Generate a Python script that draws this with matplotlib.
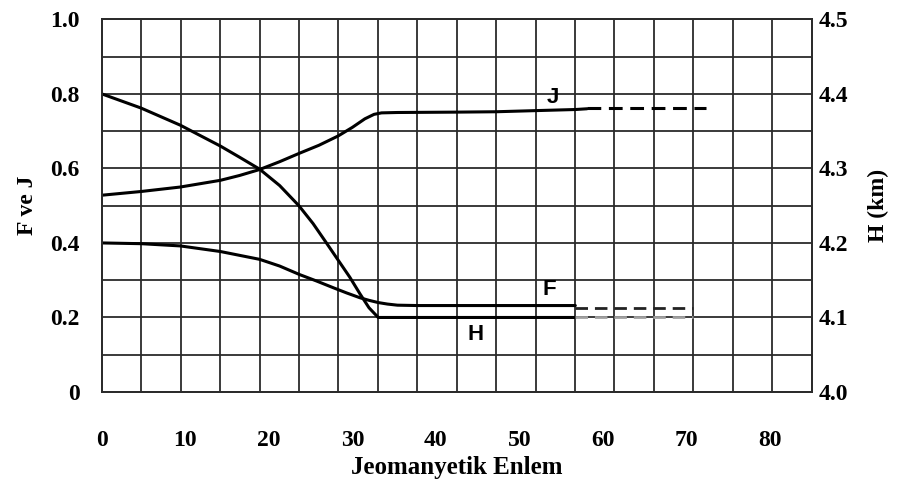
import numpy as np
import matplotlib
matplotlib.use("Agg")
import matplotlib.pyplot as plt

# readings from the figure (x in geomagnetic latitude, degrees)
h_lat = [0, 4.7, 9.4, 14.2, 16.5, 18.9, 21.3, 23.6, 25.3, 26.9, 28.3, 29.7,
         30.9, 32.0, 33.1, 56.7]
h_km = [4.400, 4.381, 4.358, 4.330, 4.315, 4.299, 4.277, 4.250, 4.226, 4.200,
        4.177, 4.154, 4.132, 4.113, 4.100, 4.100]
h_dash_lat = [56.7, 70.8]
h_dash_km = [4.100, 4.100]

j_lat = [0, 4.7, 9.4, 14.2, 16.5, 18.9, 21.3, 23.6, 26.0, 28.3, 30.0, 31.5,
         32.6, 33.5, 35.4, 42.5, 47.2, 51.9, 56.7, 58.1]
j_val = [0.528, 0.538, 0.550, 0.568, 0.581, 0.597, 0.618, 0.640, 0.662, 0.687,
         0.710, 0.733, 0.745, 0.749, 0.750, 0.751, 0.752, 0.755, 0.758, 0.760]
j_dash_lat = [58.1, 72.3]
j_dash_val = [0.762, 0.762]

f_lat = [0, 4.7, 9.4, 14.2, 18.9, 21.3, 23.7, 25.7, 27.7, 29.3, 30.9, 32.0,
         33.1, 34.2, 35.4, 37.8, 56.7]
f_val = [0.400, 0.398, 0.392, 0.377, 0.356, 0.338, 0.315, 0.298, 0.280, 0.266,
         0.253, 0.246, 0.240, 0.236, 0.233, 0.232, 0.232]
f_dash_lat = [56.7, 70.8]
f_dash_val = [0.226, 0.226]

x_ticks = [0, 10, 20, 30, 40, 50, 60, 70, 80]
left_ticks = [0, 0.2, 0.4, 0.6, 0.8, 1.0]
left_labels = ["0", "0.2", "0.4", "0.6", "0.8", "1.0"]
right_ticks = [4.0, 4.1, 4.2, 4.3, 4.4, 4.5]
right_labels = ["4.0", "4.1", "4.2", "4.3", "4.4", "4.5"]

serif = "Liberation Serif"
sans = "Liberation Sans"
gridc = "#2b2b2b"

fig = plt.figure(figsize=(8.98, 4.88), dpi=100)
ax = fig.add_axes([0.1133, 0.1967, 0.7906, 0.7637])
ax2 = ax.twinx()

ax.set_xlim(0, 85)
ax.set_ylim(0, 1.0)
ax2.set_ylim(4.0, 4.5)

# grid: 18 columns, rows every 0.1
ax.set_xticks(x_ticks)
ax.set_xticks(np.linspace(0, 85, 19), minor=True)
ax.set_yticks(left_ticks)
ax.set_yticks(np.arange(0, 1.01, 0.1), minor=True)
ax.grid(which="minor", color=gridc, lw=1.3)
ax.grid(which="major", axis="y", color=gridc, lw=1.3)
ax.set_axisbelow(True)

ax.set_yticklabels(left_labels)
ax2.set_yticks(right_ticks)
ax2.set_yticklabels(right_labels)

for a in (ax, ax2):
    a.tick_params(which="both", length=0)
    for s in a.spines.values():
        s.set_color(gridc)
        s.set_linewidth(1.3)
ax.tick_params(axis="y", pad=16)
ax.tick_params(axis="x", pad=27)
ax2.tick_params(axis="y", pad=5)
for lab in ax.get_xticklabels() + ax.get_yticklabels() + ax2.get_yticklabels():
    lab.set_fontfamily(serif)
    lab.set_fontweight("bold")
    lab.set_fontsize(17)

# curves
ax.plot(j_lat, j_val, color="black", lw=2.2, solid_capstyle="round")
ax.plot(j_dash_lat, j_dash_val, color="black", lw=2.2, dashes=(4.5, 2.5))
ax.plot(f_lat, f_val, color="black", lw=2.2, solid_capstyle="round")
ax.plot(f_dash_lat, f_dash_val, color="#222222", lw=2.0, dashes=(4.5, 2.5))
ax2.plot(h_lat, h_km, color="black", lw=2.2, solid_capstyle="round")
ax2.plot(h_dash_lat, h_dash_km, color="#a0a0a0", lw=2.0, dashes=(4.5, 2.5))

ax.text(54.0, 0.79, "J", fontfamily=sans, fontweight="bold", fontsize=16,
        ha="center", va="center")
ax.text(53.6, 0.274, "F", fontfamily=sans, fontweight="bold", fontsize=16,
        ha="center", va="center")
ax.text(44.8, 0.153, "H", fontfamily=sans, fontweight="bold", fontsize=16,
        ha="center", va="center")

ax.set_xlabel("Jeomanyetik Enlem", fontfamily=serif, fontweight="bold",
              fontsize=18, labelpad=4)
ax.set_ylabel("F ve J", fontfamily=serif, fontweight="bold", fontsize=17,
              labelpad=9)
ax2.set_ylabel("H (km)", fontfamily=serif, fontweight="bold", fontsize=17,
               labelpad=14)

fig.savefig("out.png", dpi=100)
